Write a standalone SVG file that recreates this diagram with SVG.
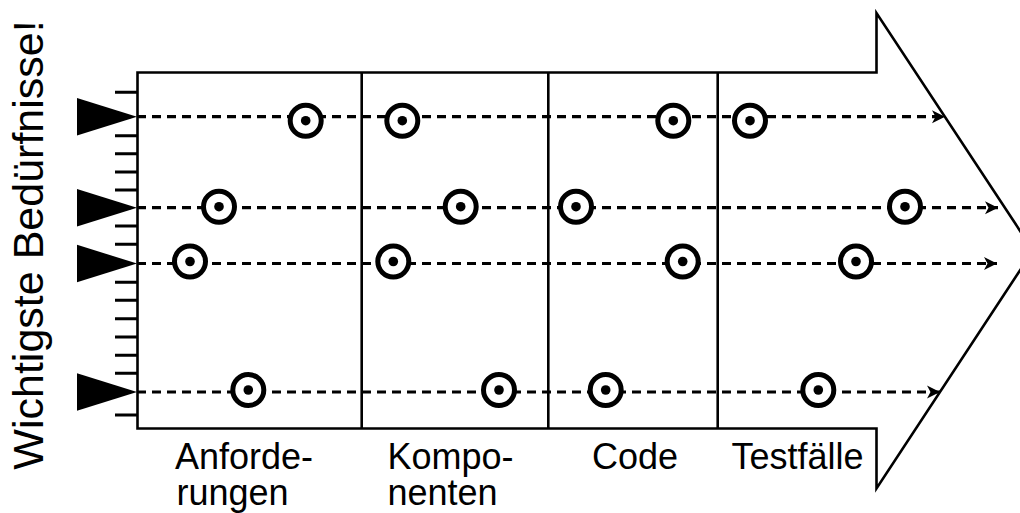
<svg xmlns="http://www.w3.org/2000/svg" width="1020" height="513" viewBox="0 0 1020 513">
  <style>
    .frame { fill: none; stroke: #000; stroke-width: 2.6; }
    .tick { stroke: #000; stroke-width: 3; }
    .flow { fill: none; stroke: #000; stroke-width: 3.2; stroke-dasharray: 9 6; }
    .need { fill: #000; }
    .ring { fill: #fff; stroke: #000; stroke-width: 5; }
    .dot { fill: #000; }
    .label { font-family: "Liberation Sans", Arial, sans-serif; font-size: 36px; fill: #000; }
    .side { font-family: "Liberation Sans", Arial, sans-serif; font-size: 43px; fill: #000; }
  </style>
  <defs>
    <marker id="head" markerUnits="userSpaceOnUse" markerWidth="14" markerHeight="14" refX="13" refY="7" orient="auto">
      <path d="M0,0.5 L13,7 L0,13.5 L3.5,7 Z" fill="#000"/>
    </marker>
    <g id="trace">
      <circle class="ring" r="15.5"/>
      <circle class="dot" r="4.8"/>
    </g>
  </defs>

  <!-- big process arrow with phase dividers -->
  <g id="process-arrow">
    <path class="frame" d="M137.5,72.5 H876.5 V13 L1033,250.5 L876.5,488.5 V428.5 H137.5 Z"/>
    <line class="frame" x1="361.7" y1="72.5" x2="361.7" y2="428.5"/>
    <line class="frame" x1="548.3" y1="72.5" x2="548.3" y2="428.5"/>
    <line class="frame" x1="717.7" y1="72.5" x2="717.7" y2="428.5"/>
  </g>

  <!-- scale ticks on the left edge -->
  <g id="scale">
    <path class="tick" d="M115,92.3 H137 M115,135.7 H137 M115,153.7 H137 M115,172 H137 M115,190 H137 M115,226 H137 M115,244.3 H137 M115,282.3 H137 M115,300.3 H137 M115,318.7 H137 M115,337 H137 M115,355.3 H137 M115,373.3 H137 M115,415 H137"/>
  </g>

  <!-- traceability lines -->
  <g id="connectors">
    <line class="flow" x1="77" y1="116.7" x2="945" y2="116.7" marker-end="url(#head)"/>
    <line class="flow" x1="77" y1="207.7" x2="998" y2="207.7" marker-end="url(#head)"/>
    <line class="flow" x1="77" y1="263.5" x2="997" y2="263.5" marker-end="url(#head)"/>
    <line class="flow" x1="77" y1="392" x2="940" y2="392" marker-end="url(#head)"/>
  </g>

  <!-- needs (black triangles) -->
  <g id="need-1"><polygon class="need" points="77,98 137,116.7 77,135.4"/></g>
  <g id="need-2"><polygon class="need" points="77,189 137,207.7 77,226.4"/></g>
  <g id="need-3"><polygon class="need" points="77,244.8 137,263.5 77,282.2"/></g>
  <g id="need-4"><polygon class="need" points="77,373.3 137,392 77,410.7"/></g>

  <!-- trace points per row -->
  <g id="row-1">
    <use href="#trace" x="305.7" y="120.7"/>
    <use href="#trace" x="402.3" y="120.7"/>
    <use href="#trace" x="673.3" y="120.7"/>
    <use href="#trace" x="750" y="120.7"/>
  </g>
  <g id="row-2">
    <use href="#trace" x="219" y="206.7"/>
    <use href="#trace" x="460.7" y="206.7"/>
    <use href="#trace" x="576" y="206.7"/>
    <use href="#trace" x="905" y="206.7"/>
  </g>
  <g id="row-3">
    <use href="#trace" x="190" y="261.5"/>
    <use href="#trace" x="393.3" y="261.5"/>
    <use href="#trace" x="682.7" y="261.5"/>
    <use href="#trace" x="856" y="261.5"/>
  </g>
  <g id="row-4">
    <use href="#trace" x="248.3" y="390"/>
    <use href="#trace" x="499" y="390"/>
    <use href="#trace" x="605.7" y="390"/>
    <use href="#trace" x="818.3" y="390"/>
  </g>

  <!-- phase labels -->
  <g id="phase-labels">
    <text class="label" x="175" y="469">Anforde-</text>
    <text class="label" x="176.5" y="505">rungen</text>
    <text class="label" x="387.5" y="469">Kompo-</text>
    <text class="label" x="387.5" y="505">nenten</text>
    <text class="label" x="592" y="469">Code</text>
    <text class="label" x="731.5" y="469">Testfälle</text>
  </g>

  <!-- axis caption -->
  <g id="axis-caption">
    <text class="side" transform="translate(43,245) rotate(-90)" text-anchor="middle">Wichtigste Bedürfnisse!</text>
  </g>
</svg>
